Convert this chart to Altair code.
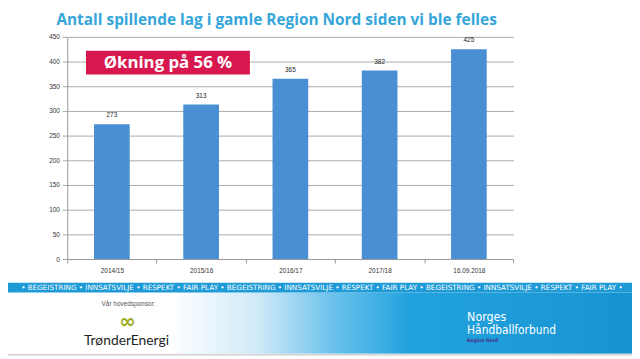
import altair as alt
import pandas as pd

seasons = ["2014/15", "2015/16", "2016/17", "2017/18", "16.09.2018"]
teams = [273, 313, 365, 382, 425]

title_text = "Antall spillende lag i gamle Region Nord siden vi ble felles"
badge_text = "Økning på 56 %"
stripe_text = ("• BEGEISTRING • INNSATSVILJE • RESPEKT • FAIR PLAY " * 3) + "•"

df = pd.DataFrame({"season": seasons, "teams": teams})

W, H = 452, 225

base = alt.Chart(df)

xscale = alt.Scale(paddingInner=0.6, paddingOuter=0.3)
yscale = alt.Scale(domain=[0, 450])

xenc = alt.X("season:N", sort=seasons, title=None, scale=xscale,
             axis=alt.Axis(labelAngle=0, labelFontSize=6.5, labelColor="#333",
                           labelFont="Liberation Sans", domainColor="#999",
                           tickColor="#999", tickSize=4, tickOffset=-45.2,
                           labelOffset=45.2, labelPadding=5))
yenc = alt.Y("teams:Q", title=None, scale=yscale,
             axis=alt.Axis(values=list(range(0, 451, 50)), labelFontSize=6.5,
                           labelColor="#333", labelFont="Liberation Sans",
                           domainColor="#999", gridColor="#aaa", tickColor="#aaa",
                           tickSize=5, labelPadding=3, labelOverlap=False))

bars = base.mark_bar(color="#4A8FD3").encode(x=xenc, y=yenc)
labels = base.mark_text(dy=-9, fontSize=6.5, color="#222",
                        font="Liberation Sans").encode(x=xenc, y=yenc, text="teams:Q")

one = alt.Chart(pd.DataFrame({"a": [0]}))

end_tick = one.mark_rule(color="#999").encode(
    x=alt.value(452), y=alt.value(225), y2=alt.value(229))

title = one.mark_text(text=title_text, align="left", baseline="alphabetic",
                      fontSize=15.6, fontWeight="bold", font="Open Sans",
                      color="#35A6DA").encode(x=alt.value(-11), y=alt.value(-12))

badge_box = one.mark_rect(color="#D7184F").encode(
    x=alt.value(19), x2=alt.value(185), y=alt.value(14), y2=alt.value(38))
badge_txt = one.mark_text(text=badge_text, align="center", baseline="middle",
                          fontSize=17, fontWeight="bold", font="Open Sans",
                          color="white").encode(x=alt.value(102), y=alt.value(26.5))

footer_bg = one.mark_rect(color=alt.LinearGradient(
    gradient="linear", x1=0, x2=1, y1=0, y2=0,
    stops=[alt.GradientStop(offset=0, color="#ffffff"),
           alt.GradientStop(offset=0.26, color="#ffffff"),
           alt.GradientStop(offset=0.40, color="#cfeaf8"),
           alt.GradientStop(offset=0.52, color="#6cc2ec"),
           alt.GradientStop(offset=0.64, color="#22a3de"),
           alt.GradientStop(offset=1, color="#1893d2")])).encode(
    x=alt.value(-60), x2=alt.value(572), y=alt.value(259), y2=alt.value(321))
footer_line = one.mark_rect(color="#d8d8d8").encode(
    x=alt.value(-60), x2=alt.value(572), y=alt.value(321), y2=alt.value(323))

stripe = one.mark_rect(color="#1E9BD7").encode(
    x=alt.value(-60), x2=alt.value(572), y=alt.value(249), y2=alt.value(259))
stripe_txt = one.mark_text(text=stripe_text, align="center", baseline="middle",
                           fontSize=7.3, font="DejaVu Sans",
                           color="white").encode(x=alt.value(258), y=alt.value(254.5))

sponsor_lbl = one.mark_text(text="Vår hovedsponsor:", align="center", baseline="middle",
                            fontSize=6.5, font="Liberation Sans", color="#555").encode(
    x=alt.value(62), y=alt.value(271))
sponsor_logo = one.mark_text(text="∞", align="center", baseline="middle",
                             fontSize=20, font="DejaVu Sans", fontWeight="bold",
                             color="#9AAA1E").encode(x=alt.value(61), y=alt.value(289))
sponsor_name = one.mark_text(text="TrønderEnergi", align="center", baseline="alphabetic",
                             fontSize=14, font="Lato", color="#1f1f1f").encode(
    x=alt.value(60), y=alt.value(312))

nhf1 = one.mark_text(text="Norges", align="left", baseline="alphabetic",
                     fontSize=12.5, font="DejaVu Sans Condensed", color="white").encode(
    x=alt.value(405), y=alt.value(288))
nhf2 = one.mark_text(text="Håndballforbund", align="left", baseline="alphabetic",
                     fontSize=12, font="DejaVu Sans Condensed", color="white").encode(
    x=alt.value(405), y=alt.value(301))
nhf3 = one.mark_text(text="Region Nord", align="left", baseline="alphabetic",
                     fontSize=5, fontWeight="bold", font="DejaVu Sans Condensed",
                     color="#4B2A8A").encode(x=alt.value(405), y=alt.value(309))

chart = alt.layer(
    footer_bg, footer_line, stripe, stripe_txt,
    bars, labels, end_tick, title, badge_box, badge_txt,
    sponsor_lbl, sponsor_logo, sponsor_name, nhf1, nhf2, nhf3
).properties(
    width=W, height=H,
    autosize=alt.AutoSizeParams(type="none"),
    padding={"left": 60, "top": 27, "right": 120, "bottom": 99},
    background="white",
).configure_view(stroke=None)

chart.save("out.html", embed_options={"renderer": "svg", "actions": False})
